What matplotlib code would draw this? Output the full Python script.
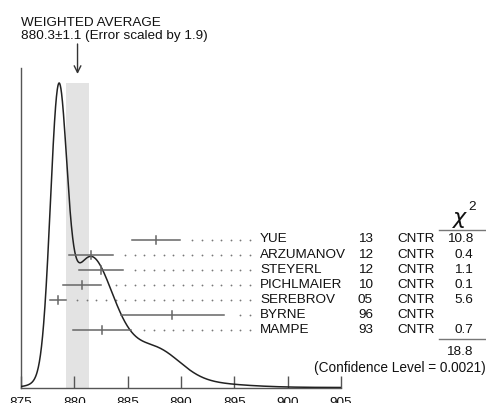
import numpy as np
import matplotlib.pyplot as plt

plt.rcParams['font.family'] = ['Liberation Sans', 'DejaVu Sans']

# Neutron mean life measurements (s)
names = ["YUE", "ARZUMANOV", "STEYERL", "PICHLMAIER", "SEREBROV", "BYRNE", "MAMPE"]
years = ["13", "12", "12", "10", "05", "96", "93"]
techs = ["CNTR"] * 7
values = np.array([887.7, 881.6, 882.5, 880.7, 878.5, 889.2, 882.6])
stat_err = np.array([1.2, 0.8, 1.4, 1.3, 0.7, 3.0, 2.7])
syst_err = np.array([1.9, 1.9, 1.5, 1.2, 0.3, 3.8, 0.0])
chi2 = ["10.8", "0.4", "1.1", "0.1", "5.6", "", "0.7"]
chi2_total = "18.8"
conf_level = "0.0021"
wavg, wavg_err, err_scale = 880.3, 1.1, 1.9
xticks = [875, 880, 885, 890, 895, 900, 905]

errors = np.sqrt(stat_err**2 + syst_err**2)

W, H = 486, 403
fig = plt.figure(figsize=(W / 100, H / 100), dpi=100)

# axes box in pixels: x 875 -> 21px, 905 -> 341px; baseline at 387.5px, top at 68px
ax_l, ax_r, ax_b, ax_t = 21, 341, 387.5, 68
ax = fig.add_axes([ax_l / W, (H - ax_b) / H, (ax_r - ax_l) / W, (ax_b - ax_t) / H])
ax.set_xlim(875, 905)
ax.set_ylim(0, ax_b - ax_t)

xscale = (ax_r - ax_l) / 30.0


def px2x(px):
    return 875 + (px - ax_l) / xscale


def px2y(py):
    return ax_b - py


axis_col = "#555555"
txt_col = "#111111"
for s in ["top", "right"]:
    ax.spines[s].set_visible(False)
for s in ["left", "bottom"]:
    ax.spines[s].set_color(axis_col)
    ax.spines[s].set_linewidth(1.0)
ax.set_yticks([])
ax.set_xticks(xticks)
ax.tick_params(axis="x", direction="in", length=9, width=1.0, color=axis_col,
               labelsize=9.7, pad=6.5, labelcolor=txt_col)

# weighted average band
ax.axvspan(wavg - wavg_err, wavg + wavg_err, ymin=0, ymax=px2y(83) / (ax_b - ax_t),
           color="#e3e3e3", lw=0, zorder=0)

# ideogram: gaussians with area proportional to 1/sigma
xs = np.linspace(875, 905, 1500)
curve = np.zeros_like(xs)
for v, e in zip(values, errors):
    curve += (1 / e**2) * np.exp(-0.5 * ((xs - v) / e) ** 2)
curve = curve / curve.max() * (ax_b - 83)
ax.plot(xs, curve, color="#222222", lw=1.1, zorder=3)

# measurements with error bars and leader dots
row_top, row_step = 239.5, 15.15
dot_step = 9.6
for i, (v, e) in enumerate(zip(values, errors)):
    yy = px2y(row_top + i * row_step)
    ax.plot([v - e, v + e], [yy, yy], color="#666666", lw=1.1, zorder=4, clip_on=False)
    ax.plot([v, v], [yy - 4, yy + 4], color="#666666", lw=1.1, zorder=4, clip_on=False)
    right_px = ax_l + (v + e - 875) * xscale
    dots_px = 250 - dot_step * np.arange(30)
    dots_px = dots_px[dots_px > right_px + 7]
    ax.plot([px2x(d) for d in dots_px], [yy] * len(dots_px), ls="none", marker="o",
            ms=1.3, mew=0, color="#777777", clip_on=False)
    ax.text(px2x(260), yy, names[i], fontsize=9.7, va="center", ha="left", color=txt_col)
    ax.text(px2x(358), yy, years[i], fontsize=9.7, va="center", ha="left", color=txt_col)
    ax.text(px2x(397), yy, techs[i], fontsize=9.7, va="center", ha="left", color=txt_col)
    ax.text(px2x(473), yy, chi2[i], fontsize=9.7, va="center", ha="right", color=txt_col)

# chi-square column header and total
ax.text(px2x(460), px2y(220), r"$\chi$", fontsize=16, ha="center", va="center", color=txt_col)
ax.text(px2x(472), px2y(206.5), "2", fontsize=9.7, ha="center", va="center", color=txt_col)
ax.plot([px2x(439), px2x(486)], [px2y(230)] * 2, color="#777777", lw=1.0, clip_on=False)
ax.plot([px2x(439), px2x(486)], [px2y(339)] * 2, color="#777777", lw=1.0, clip_on=False)
ax.text(px2x(473), px2y(352), chi2_total, fontsize=9.7, va="center", ha="right", color=txt_col)
ax.text(px2x(486), px2y(368), "(Confidence Level = %s)" % conf_level, fontsize=9.8,
        va="center", ha="right", color=txt_col)

# weighted average label and arrow
fig.text(21 / W, 1 - 26.5 / H, "WEIGHTED AVERAGE", fontsize=9.7, ha="left", va="baseline",
         color=txt_col)
fig.text(21 / W, 1 - 38.5 / H, "%.1f\u00b1%.1f (Error scaled by %.1f)" % (wavg, wavg_err, err_scale),
         fontsize=9.7, ha="left", va="baseline", color=txt_col)
ax.annotate("", xy=(wavg, px2y(74)), xytext=(wavg, px2y(44)), annotation_clip=False,
            arrowprops=dict(arrowstyle="->", lw=1.0, color="#333333", mutation_scale=12,
                            shrinkA=0, shrinkB=0))

fig.savefig("out.png", dpi=100)
